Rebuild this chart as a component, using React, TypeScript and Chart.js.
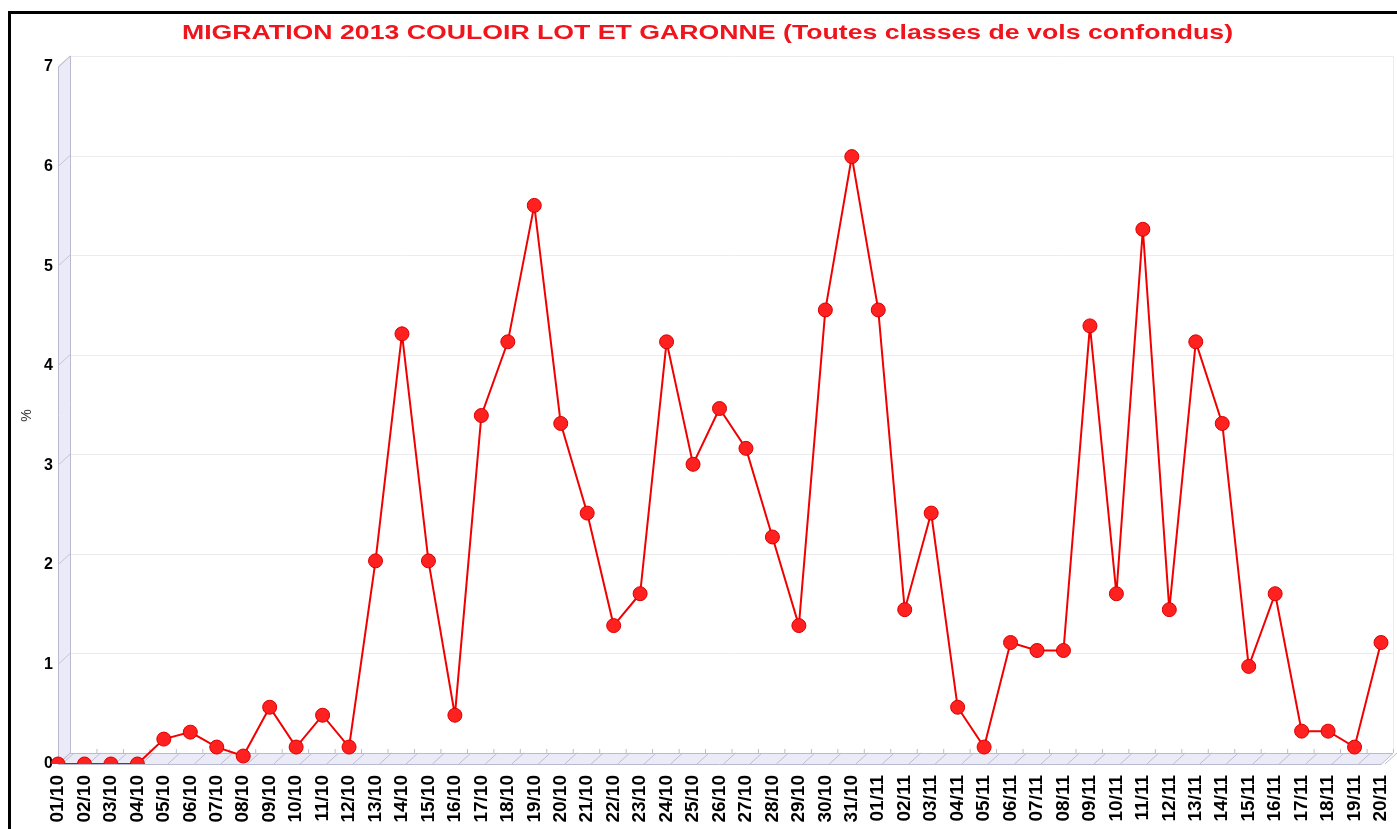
import React, { useEffect, useRef } from 'react';
import { Chart, registerables } from 'chart.js';

Chart.register(...registerables);

const TITLE = 'MIGRATION 2013 COULOIR LOT ET GARONNE (Toutes classes de vols confondus)';
const Y_TITLE = '%';

const DATES = [
  '01/10', '02/10', '03/10', '04/10', '05/10', '06/10', '07/10', '08/10', '09/10', '10/10',
  '11/10', '12/10', '13/10', '14/10', '15/10', '16/10', '17/10', '18/10', '19/10', '20/10',
  '21/10', '22/10', '23/10', '24/10', '25/10', '26/10', '27/10', '28/10', '29/10', '30/10',
  '31/10', '01/11', '02/11', '03/11', '04/11', '05/11', '06/11', '07/11', '08/11', '09/11',
  '10/11', '11/11', '12/11', '13/11', '14/11', '15/11', '16/11', '17/11', '18/11', '19/11',
  '20/11',
];

const PERCENT = [
  0, 0, 0, 0, 0.25, 0.32, 0.17, 0.08, 0.57, 0.17,
  0.49, 0.17, 2.04, 4.32, 2.04, 0.49, 3.5, 4.24, 5.61, 3.42,
  2.52, 1.39, 1.71, 4.24, 3.01, 3.57, 3.17, 2.28, 1.39, 4.56,
  6.1, 4.56, 1.55, 2.52, 0.57, 0.17, 1.22, 1.14, 1.14, 4.4,
  1.71, 5.37, 1.55, 4.24, 3.42, 0.98, 1.71, 0.33, 0.33, 0.17,
  1.22,
];

const Y_MIN = 0;
const Y_MAX = 7;

const DX = 12;
const DY = 11;

const threeDPlugin = {
  id: 'threeD',
  beforeDatasetsDraw(chart: any) {
    const { ctx, chartArea, scales } = chart;
    const { left, right, top, bottom } = chartArea;
    const x = scales.x;
    const y = scales.y;
    ctx.save();
    ctx.lineWidth = 1;

    // back grid lines
    ctx.strokeStyle = '#ececf0';
    for (let v = Y_MIN; v <= Y_MAX; v++) {
      const py = Math.round(y.getPixelForValue(v) - DY) + 0.5;
      ctx.beginPath();
      ctx.moveTo(left + DX, py);
      ctx.lineTo(right + DX, py);
      ctx.stroke();
    }
    ctx.beginPath();
    ctx.moveTo(right + DX + 0.5, top - DY);
    ctx.lineTo(right + DX + 0.5, bottom - DY);
    ctx.stroke();

    // left wall
    ctx.fillStyle = '#ebebf8';
    ctx.strokeStyle = '#b9b9cf';
    ctx.beginPath();
    ctx.moveTo(left + 0.5, bottom);
    ctx.lineTo(left + 0.5, top);
    ctx.lineTo(left + DX + 0.5, top - DY);
    ctx.lineTo(left + DX + 0.5, bottom - DY);
    ctx.closePath();
    ctx.fill();
    ctx.stroke();
    ctx.strokeStyle = '#c4c4d6';
    for (let v = Y_MIN; v <= Y_MAX; v++) {
      const py = y.getPixelForValue(v);
      ctx.beginPath();
      ctx.moveTo(left, py);
      ctx.lineTo(left + DX, py - DY);
      ctx.stroke();
    }

    // floor
    ctx.fillStyle = '#ebebf8';
    ctx.strokeStyle = '#b9b9cf';
    ctx.beginPath();
    ctx.moveTo(left, bottom + 0.5);
    ctx.lineTo(right, bottom + 0.5);
    ctx.lineTo(right + DX, bottom - DY + 0.5);
    ctx.lineTo(left + DX, bottom - DY + 0.5);
    ctx.closePath();
    ctx.fill();
    ctx.stroke();
    ctx.strokeStyle = '#bcbcd0';
    for (let i = 0; i < DATES.length; i++) {
      const px = x.getPixelForValue(i);
      ctx.beginPath();
      ctx.moveTo(px + 4, bottom);
      ctx.lineTo(px + 4 + DX, bottom - DY);
      ctx.stroke();
      ctx.beginPath();
      ctx.moveTo(px + DX + 0.5, bottom - DY);
      ctx.lineTo(px + DX + 0.5, bottom - DY - 4);
      ctx.stroke();
    }
    ctx.restore();
  },
};

const titlePlugin = {
  id: 'wideTitle',
  afterDraw(chart: any) {
    const { ctx, width } = chart;
    ctx.save();
    ctx.font = 'bold 21px "Liberation Sans", Arial, sans-serif';
    ctx.fillStyle = '#f0141c';
    ctx.textAlign = 'center';
    ctx.textBaseline = 'middle';
    ctx.translate(width / 2, 19);
    ctx.scale(1.27, 1);
    ctx.fillText(TITLE, 0, 0);
    ctx.restore();
  },
};

export default function App() {
  const canvasRef = useRef<HTMLCanvasElement | null>(null);

  useEffect(() => {
    const canvas = canvasRef.current;
    if (!canvas) return;
    const chart = new Chart(canvas, {
      type: 'line',
      data: {
        labels: DATES,
        datasets: [
          {
            data: PERCENT,
            borderColor: '#f20000',
            borderWidth: 2,
            pointRadius: 7,
            pointBackgroundColor: '#ff2020',
            pointBorderColor: '#d80000',
            pointBorderWidth: 1,
            tension: 0,
          },
        ],
      },
      options: {
        responsive: false,
        animation: false,
        devicePixelRatio: 1,
        layout: { padding: { top: 53, right: 23, left: 0, bottom: 0 } },
        plugins: {
          legend: { display: false },
          tooltip: { enabled: false },
          title: { display: false },
        },
        scales: {
          x: {
            type: 'category',
            offset: false,
            grid: { display: false, drawTicks: false },
            border: { display: false },
            ticks: {
              autoSkip: false,
              maxRotation: 90,
              minRotation: 90,
              padding: 11,
              color: '#000',
              font: { family: '"Liberation Sans", Arial, sans-serif', size: 19, weight: 'bold' },
            },
            afterFit(scale: any) {
              scale.height = 65;
              scale.paddingRight = 0;
              scale.paddingLeft = 0;
            },
          },
          y: {
            min: Y_MIN,
            max: Y_MAX,
            grid: { display: false, drawTicks: false },
            border: { display: false },
            ticks: {
              stepSize: 1,
              padding: 5,
              color: '#000',
              font: { family: '"Liberation Sans", Arial, sans-serif', size: 16, weight: 'bold' },
            },
            title: {
              display: true,
              text: Y_TITLE,
              color: '#333',
              padding: { top: 8, bottom: 0 },
              font: { family: '"Liberation Sans", Arial, sans-serif', size: 14 },
            },
            afterFit(scale: any) {
              scale.width = 47;
            },
          },
        },
      },
      plugins: [threeDPlugin, titlePlugin],
    });
    return () => chart.destroy();
  }, []);

  return (
    <div
      style={{
        position: 'fixed',
        left: 8,
        top: 11,
        borderTop: '3px solid #000',
        borderLeft: '3px solid #000',
        background: '#fff',
        width: 1393,
        height: 815,
      }}
    >
      <canvas ref={canvasRef} width={1393} height={815} style={{ display: 'block' }} />
    </div>
  );
}
